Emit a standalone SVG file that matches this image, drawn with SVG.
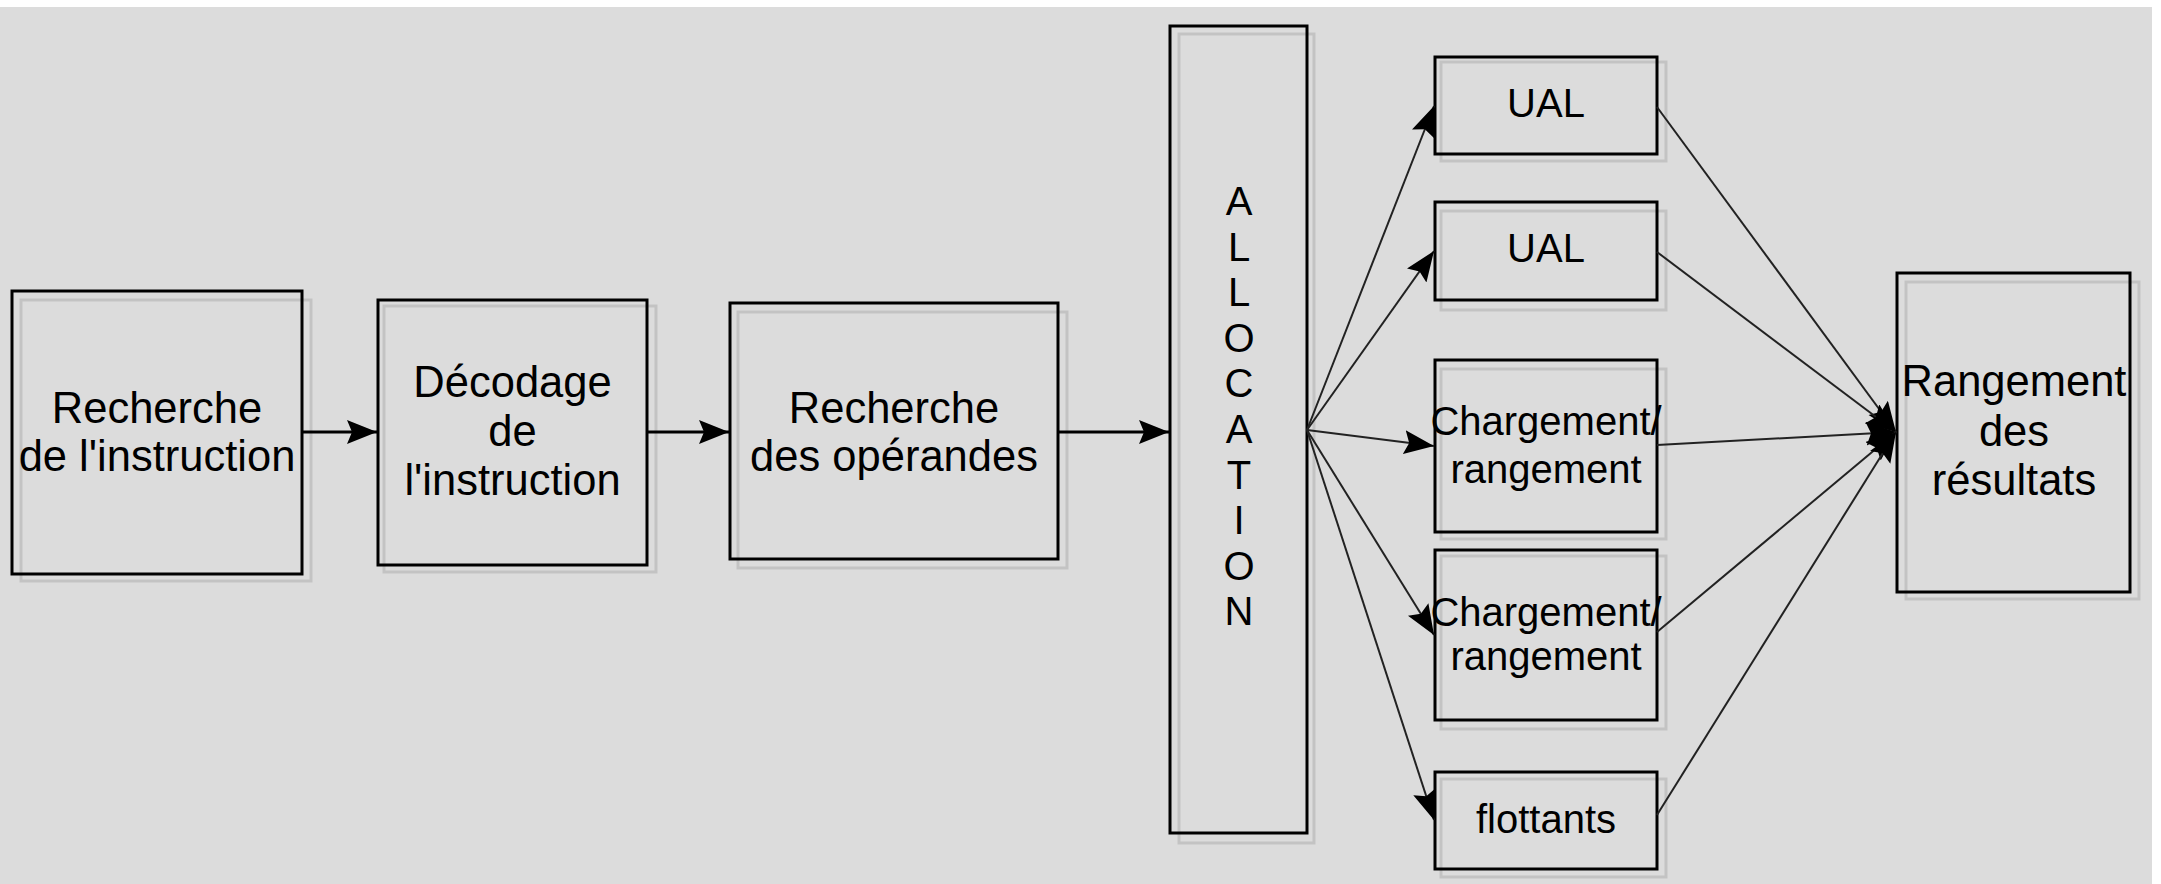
<svg xmlns="http://www.w3.org/2000/svg" width="2161" height="884" viewBox="0 0 2161 884">
<style>
.box{fill:none;stroke:#000;stroke-width:3}
.sh{fill:none;stroke:#c3c3c3;stroke-width:3}
.t{font-family:"Liberation Sans",Arial,sans-serif;fill:#000;text-anchor:middle}
.big{font-size:43.5px}
.mid{font-size:40px}
.h{fill:none;stroke:#000;stroke-width:3}
.d{fill:none;stroke:#222;stroke-width:2}
</style>
<defs>
<marker id="ah" markerUnits="userSpaceOnUse" markerWidth="32" markerHeight="26" refX="30" refY="12" orient="auto" viewBox="0 0 32 26">
<path d="M0,0 L30,12 L0,24 L5,12 Z" fill="#000"/>
</marker>
</defs>
<rect x="0" y="0" width="2161" height="884" fill="#fff"/>
<rect x="0" y="7" width="2152" height="877" fill="#dcdcdc"/>

<g id="recherche-instruction">
<rect class="sh" x="21" y="300" width="290" height="281"/>
<rect class="box" x="12" y="291" width="290" height="283"/>
<text class="t big" x="157" y="423">Recherche</text>
<text class="t big" x="157" y="471">de l'instruction</text>
</g>

<g id="decodage">
<rect class="sh" x="384" y="306" width="272" height="266"/>
<rect class="box" x="378" y="300" width="269" height="265"/>
<text class="t big" x="512.5" y="397">Décodage</text>
<text class="t big" x="512.5" y="446">de</text>
<text class="t big" x="512.5" y="495">l'instruction</text>
</g>

<g id="recherche-operandes">
<rect class="sh" x="738" y="312" width="329" height="256"/>
<rect class="box" x="730" y="303" width="328" height="256"/>
<text class="t big" x="894" y="423">Recherche</text>
<text class="t big" x="894" y="471">des opérandes</text>
</g>

<g id="allocation">
<rect class="sh" x="1179" y="34" width="135" height="809"/>
<rect class="box" x="1170" y="26" width="137" height="807"/>
<text class="t mid" x="1239" y="215">A</text>
<text class="t mid" x="1239" y="261">L</text>
<text class="t mid" x="1239" y="306">L</text>
<text class="t mid" x="1239" y="352">O</text>
<text class="t mid" x="1239" y="397">C</text>
<text class="t mid" x="1239" y="443">A</text>
<text class="t mid" x="1239" y="489">T</text>
<text class="t mid" x="1239" y="534">I</text>
<text class="t mid" x="1239" y="580">O</text>
<text class="t mid" x="1239" y="625">N</text>
</g>

<g id="ual1">
<rect class="sh" x="1441" y="62" width="225" height="99"/>
<rect class="box" x="1435" y="57" width="222" height="97"/>
<text class="t mid" x="1546" y="117">UAL</text>
</g>

<g id="ual2">
<rect class="sh" x="1441" y="211" width="225" height="99"/>
<rect class="box" x="1435" y="202" width="222" height="98"/>
<text class="t mid" x="1546" y="262">UAL</text>
</g>

<g id="chargement1">
<rect class="sh" x="1441" y="369" width="225" height="170"/>
<rect class="box" x="1435" y="360" width="222" height="172"/>
<text class="t mid" x="1546" y="435">Chargement/</text>
<text class="t mid" x="1546" y="483">rangement</text>
</g>

<g id="chargement2">
<rect class="sh" x="1441" y="556" width="225" height="173"/>
<rect class="box" x="1435" y="550" width="222" height="170"/>
<text class="t mid" x="1546" y="626">Chargement/</text>
<text class="t mid" x="1546" y="670">rangement</text>
</g>

<g id="flottants">
<rect class="sh" x="1441" y="779" width="225" height="98"/>
<rect class="box" x="1435" y="772" width="222" height="97"/>
<text class="t mid" x="1546" y="833">flottants</text>
</g>

<g id="rangement-resultats">
<rect class="sh" x="1906" y="282" width="233" height="317"/>
<rect class="box" x="1897" y="273" width="233" height="319"/>
<text class="t big" x="2014" y="396">Rangement</text>
<text class="t big" x="2014" y="446">des</text>
<text class="t big" x="2014" y="495">résultats</text>
</g>

<g id="connectors">
<line class="h" x1="302" y1="432" x2="377" y2="432" marker-end="url(#ah)"/>
<line class="h" x1="647" y1="432" x2="729" y2="432" marker-end="url(#ah)"/>
<line class="h" x1="1058" y1="432" x2="1169" y2="432" marker-end="url(#ah)"/>
<line class="d" x1="1307" y1="430" x2="1434" y2="106" marker-end="url(#ah)"/>
<line class="d" x1="1307" y1="430" x2="1434" y2="251" marker-end="url(#ah)"/>
<line class="d" x1="1307" y1="430" x2="1434" y2="446" marker-end="url(#ah)"/>
<line class="d" x1="1307" y1="430" x2="1434" y2="635" marker-end="url(#ah)"/>
<line class="d" x1="1307" y1="430" x2="1434" y2="820" marker-end="url(#ah)"/>
<line class="d" x1="1657" y1="107" x2="1896" y2="432" marker-end="url(#ah)"/>
<line class="d" x1="1657" y1="252" x2="1896" y2="432" marker-end="url(#ah)"/>
<line class="d" x1="1657" y1="445" x2="1896" y2="432" marker-end="url(#ah)"/>
<line class="d" x1="1657" y1="632" x2="1896" y2="432" marker-end="url(#ah)"/>
<line class="d" x1="1657" y1="815" x2="1896" y2="432" marker-end="url(#ah)"/>
</g>
</svg>
